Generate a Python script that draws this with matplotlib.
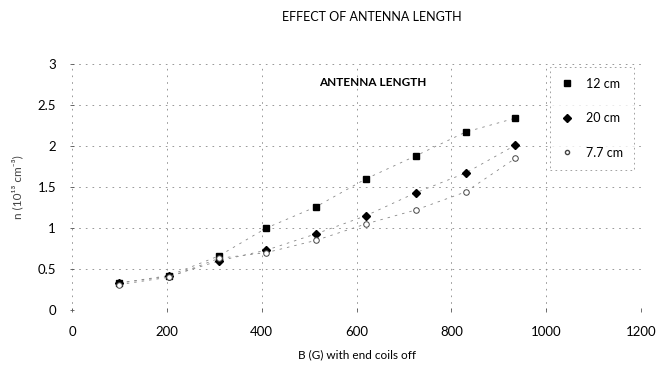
import matplotlib
matplotlib.use("Agg")
import matplotlib.pyplot as plt
from matplotlib.lines import Line2D

# magnetic field (G) and density for each antenna length
b_field = [100, 205, 310, 410, 515, 620, 725, 830, 935]
n_12cm = [0.33, 0.42, 0.66, 1.00, 1.26, 1.60, 1.88, 2.17, 2.34]
n_20cm = [0.33, 0.41, 0.60, 0.73, 0.93, 1.15, 1.43, 1.67, 2.01]
n_7cm = [0.31, 0.40, 0.63, 0.70, 0.85, 1.05, 1.22, 1.44, 1.85]
labels = ["12 cm", "20 cm", "7.7 cm"]

x_ticks = [0, 200, 400, 600, 800, 1000, 1200]
y_ticks = [0, 0.5, 1, 1.5, 2, 2.5, 3]
y_tick_labels = ["0", "0.5", "1", "1.5", "2", "2.5", "3"]

plt.rcParams["font.family"] = ["Lato", "DejaVu Sans"]

fig = plt.figure(figsize=(6.64, 3.73), dpi=100)
ax = fig.add_axes([0.1084, 0.1689, 0.857, 0.6595])

trend = dict(color="#888888", lw=0.6, ls=(0, (3, 6)))
ax.plot(b_field, n_12cm, **trend, marker="s", ms=5, mfc="black", mec="black")
ax.plot(b_field, n_20cm, **trend, marker="D", ms=4, mfc="black", mec="black")
ax.plot(b_field, n_7cm, **trend, marker="o", ms=4, mfc="white",
        mec="#444444", mew=0.7)

ax.set_xlim(0, 1200)
ax.set_ylim(0, 3)
ax.set_xticks(x_ticks)
ax.set_yticks(y_ticks)
ax.set_yticklabels(y_tick_labels)
ax.tick_params(length=3, width=0.6, colors="#555555", labelcolor="black",
               labelsize=9.5, direction="inout", pad=10)
ax.grid(True, color="#888888", lw=0.6, ls=(0, (2, 6)))
for s in ax.spines.values():
    s.set_visible(False)

ax.set_xlabel("B (G) with end coils off", fontsize=8.5, labelpad=8)
ax.set_ylabel("n (10¹³ cm⁻³)", fontsize=8.5, labelpad=10, color="#444444")
fig.text(0.56, 0.955, "EFFECT OF ANTENNA LENGTH", ha="center", va="center",
         fontsize=9)

ax.text(520, 2.78, "ANTENNA LENGTH", ha="left", va="center", fontsize=8.5,
        fontweight="bold")

handles = [
    Line2D([], [], ls="none", marker="s", ms=5, mfc="black", mec="black"),
    Line2D([], [], ls="none", marker="D", ms=4, mfc="black", mec="black"),
    Line2D([], [], ls="none", marker="o", ms=3, mfc="white", mec="#444444"),
]
leg = ax.legend(handles, labels, loc="upper left", bbox_to_anchor=(0.835, 1.0),
                frameon=True, fontsize=9, labelspacing=1.8, handletextpad=1.0,
                borderpad=0.9, borderaxespad=0.2, fancybox=False,
                handlelength=1.0)
leg.get_frame().set_edgecolor("#777777")
leg.get_frame().set_linestyle((0, (2, 4)))
leg.get_frame().set_linewidth(0.6)

fig.savefig("out.png", dpi=100)
